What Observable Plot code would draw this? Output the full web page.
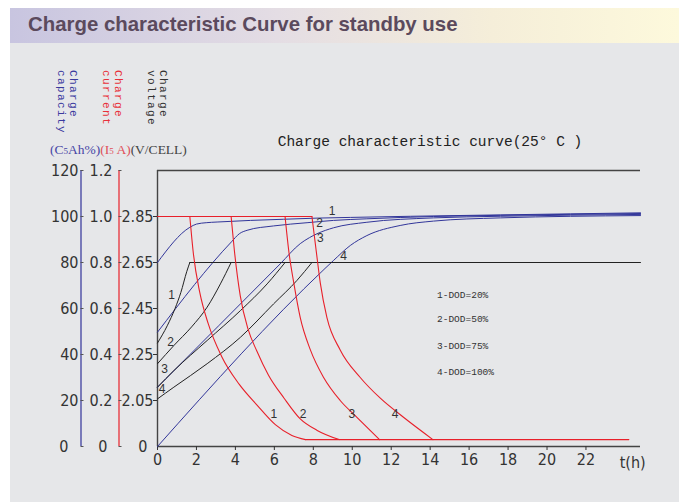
<!DOCTYPE html>
<html><head><meta charset="utf-8">
<script src="https://cdn.jsdelivr.net/npm/d3@7"></script>
<script src="https://cdn.jsdelivr.net/npm/@observablehq/plot@0.6"></script>
<style>
body{margin:0;background:#fff;}
#page{position:relative;width:679px;height:502px;overflow:hidden;background:#fff;}
#panel{position:absolute;left:10px;top:43px;right:0;bottom:0;background:#e6e7e9;}
#band{position:absolute;left:10px;top:8px;right:0;height:35px;background:linear-gradient(90deg,#c8c5e0 0%,#e4dde4 40%,#f5eed9 72%,#fdf9dc 100%);}
#band div{position:absolute;left:18px;top:5px;font:bold 20.4px "Liberation Sans",Arial,sans-serif;color:#5b4a5d;white-space:nowrap;}
.vlab{position:absolute;top:70px;writing-mode:vertical-rl;font:11px "Liberation Mono","DejaVu Sans Mono",monospace;letter-spacing:1.4px;line-height:12px;white-space:nowrap;}
#units{position:absolute;left:50px;top:142px;font:13.5px "Liberation Serif","DejaVu Serif",serif;white-space:nowrap;}
#units .s{font-size:9px;}
#chart{position:absolute;left:0;top:50px;}
</style></head>
<body><div id="page">
<div id="panel"></div>
<div id="band"><div>Charge characteristic Curve for standby use</div></div>
<div class="vlab" style="left:55px;color:#3a3a9e">Charge<br>capacity</div>
<div class="vlab" style="left:100px;color:#e8303a">Charge<br>current</div>
<div class="vlab" style="left:145px;color:#333">Charge<br>voltage</div>
<div id="units"><span style="color:#4646a6">(C<span class="s">5</span>Ah%)</span><span style="color:#e0505a">(I<span class="s">5</span> A)</span><span style="color:#444">(V/CELL)</span></div>
<div id="chart"></div>
</div>
<script>
// ---- tick values / labels ----
const hours = [0, 2, 4, 6, 8, 10, 12, 14, 16, 18, 20, 22];
const gridVals = [0, 20, 40, 60, 80, 100, 120];
const capacityTicks = ["0", "20", "40", "60", "80", "100", "120"];
const currentTicks = ["0", "0.2", "0.4", "0.6", "0.8", "1.0", "1.2"];
const voltageTicks = ["0", "2.05", "2.25", "2.45", "2.65", "2.85", ""];

// ---- charge current (I5 A) : [t(h), I] ----
const currentPlateau = [[0, 1.0], [7.93, 1.0]];
const current1 = [[1.66, 1.0], [1.84, 0.84], [2.17, 0.67], [2.6, 0.535], [3.3, 0.39], [4.2, 0.27], [5.11, 0.18], [6.05, 0.095], [6.9, 0.048], [7.6, 0.03]];
const current2 = [[3.78, 1.0], [3.95, 0.85], [4.25, 0.655], [4.65, 0.51], [5.1, 0.415], [5.7, 0.31], [6.5, 0.21], [7.33, 0.12], [8.2, 0.07], [9.33, 0.03]];
const current3 = [[6.55, 1.0], [6.74, 0.85], [7.0, 0.71], [7.33, 0.56], [7.85, 0.42], [8.53, 0.30], [9.38, 0.20], [10.24, 0.127], [11.4, 0.03]];
const current4 = [[7.93, 1.0], [8.15, 0.85], [8.36, 0.71], [8.7, 0.56], [9.38, 0.42], [10.41, 0.30], [11.44, 0.21], [12.63, 0.127], [14.14, 0.03]];
const currentFloor = [[7.6, 0.03], [24.2, 0.03]];

// ---- charge capacity (%) ----
const capacity1 = [[0, 80], [1.66, 95.3], [2.0, 96.7], [2.5, 97.3], [3.06, 97.6], [4.77, 98.3], [6.48, 98.8], [8.19, 99.3], [9.9, 99.6], [13, 100.1], [17.6, 100.7], [24.8, 101.6]];
const capacity2 = [[0, 49.7], [3.8, 89], [4.2, 92.5], [4.6, 94], [5.96, 95.9], [7.68, 97.3], [9.04, 98.3], [10.75, 99], [14.17, 100], [17.6, 100.5], [24.8, 101.3]];
const capacity3 = [[0, 25.8], [6.3, 79.4], [7.33, 88.2], [7.8, 90.8], [8.19, 92.5], [9.04, 95.1], [10.75, 97.5], [14.17, 99.4], [17.6, 100.1], [24.8, 100.9]];
const capacity4 = [[0, 0], [8.6, 77.4], [9.04, 80.9], [9.9, 87.4], [10.75, 91.7], [12.46, 96.1], [14.17, 98], [17.6, 99.4], [24.8, 100.4]];

// ---- charge voltage (V/cell) ----
const voltage1 = [[0, 2.30], [0.5, 2.375], [0.9, 2.45], [1.2, 2.52], [1.5, 2.61], [1.66, 2.65]];
const voltage2 = [[0, 2.21], [0.84, 2.289], [1.75, 2.37], [2.55, 2.456], [3.23, 2.557], [3.78, 2.65]];
const voltage3 = [[0, 2.108], [0.84, 2.18], [2.55, 2.311], [4.26, 2.441], [5.63, 2.557], [6.55, 2.65]];
const voltage4 = [[0, 2.057], [0.84, 2.108], [2.55, 2.21], [4.26, 2.325], [5.96, 2.47], [7.16, 2.572], [7.93, 2.65]];
const voltageFloat = [[1.66, 2.65], [24.8, 2.65]];

// ---- curve number labels ----
const currentLabels = [[5.97, 0.142, "1"], [7.47, 0.142, "2"], [9.98, 0.142, "3"], [12.2, 0.142, "4"]];
const capacityLabels = [[8.96, 102.3, "1"], [8.32, 97.2, "2"], [8.36, 90.4, "3"], [9.55, 82.7, "4"]];
const voltageLabels = [[0.72, 2.507, "1"], [0.67, 2.303, "2"], [0.36, 2.188, "3"], [0.24, 2.101, "4"]];
const legendLines = ["1-DOD=20%", "2-DOD=50%", "3-DOD=75%", "4-DOD=100%"];
const legendRows = [66.1, 55.5, 43.9, 32.3];
const chartTitle = "Charge characteristic curve(25° C )";

// ---- map each quantity onto the shared vertical scale ----
const fromCap = c => c;
const fromCur = i => i * 100;
const fromVolt = v => (v - 1.85) * 100;

function rows(series, kind, map) {
  return series.flatMap((s, k) => s.map(([t, v]) => ({t, y: map(v), id: kind + k})));
}
const redRows = rows([currentPlateau, current1, current2, current3, current4, currentFloor], "c", fromCur);
const blueRows = rows([capacity1, capacity2, capacity3, capacity4], "q", fromCap);
const blackRows = rows([voltage1, voltage2, voltage3, voltage4, voltageFloat], "v", fromVolt);

const RED = "#e8202a", BLUE = "#32369a", BLACK = "#222";
const NARROW = '"Liberation Sans Narrow","Arial Narrow","DejaVu Sans Condensed",sans-serif';
const MONO = '"Liberation Mono","DejaVu Sans Mono",monospace';
const SANS = '"Liberation Sans",Arial,sans-serif';
const lab = (arr, v) => arr[gridVals.indexOf(v)];
const labelRows = (arr, map) => arr.map(([t, v, n]) => ({t, y: map(v), n}));

const chart = Plot.plot({
  width: 679, height: 452,
  marginLeft: 157, marginRight: 39, marginTop: 120, marginBottom: 56,
  x: {domain: [0, 24.8], label: null},
  y: {domain: [0, 120], label: null},
  style: {background: "transparent", color: "#333", fontFamily: NARROW, fontSize: "16px"},
  marks: [
    // frame
    Plot.ruleX([0], {y1: 0, y2: 120, stroke: "#444", strokeWidth: 1.4}),
    Plot.ruleY([120], {x1: 0, x2: 24.8, stroke: "#444", strokeWidth: 1.4}),
    Plot.ruleY([0], {x1: 0, x2: 24.8, stroke: "#444", strokeWidth: 1.4}),
    // capacity axis (blue)
    Plot.ruleX([0], {y1: 0, y2: 120, dx: -76.5, stroke: "#4040a0", strokeWidth: 1.3}),
    Plot.ruleY(gridVals, {x1: 0, x2: 0, insetRight: -3, dx: -76.5, stroke: "#555"}),
    Plot.axisY(gridVals.slice(1), {label: null, tickSize: 0, tickPadding: 0, dx: -79, tickFormat: d => lab(capacityTicks, d), fontSize: 16}),
    Plot.text([0], {y: d => d, frameAnchor: "left", dx: -89, textAnchor: "end", text: () => capacityTicks[0], fontSize: 16}),
    // current axis (red)
    Plot.ruleX([0], {y1: 0, y2: 120, dx: -38.5, stroke: "#e8303a", strokeWidth: 1.3}),
    Plot.ruleY(gridVals, {x1: 0, x2: 0, insetRight: -3, dx: -38.5, stroke: "#555"}),
    Plot.axisY(gridVals.slice(1), {label: null, tickSize: 0, tickPadding: 0, dx: -45, tickFormat: d => lab(currentTicks, d), fontSize: 16}),
    Plot.text([0], {y: d => d, frameAnchor: "left", dx: -50, textAnchor: "end", text: () => currentTicks[0], fontSize: 16}),
    // voltage axis (frame)
    Plot.axisY(gridVals.slice(1, 6), {label: null, tickSize: 4, tickPadding: 0, tickFormat: d => lab(voltageTicks, d), fontSize: 16}),
    Plot.text([0], {y: d => d, frameAnchor: "left", dx: -10, textAnchor: "end", text: () => voltageTicks[0], fontSize: 16}),
    // time axis
    Plot.axisX(hours, {label: null, tickSize: 4, tickPadding: 3, fontSize: 16}),
    Plot.text(["t(h)"], {x: 24.4, y: 0, dy: 16, text: d => d, fontSize: 16}),
    // curves
    Plot.line(blueRows, {x: "t", y: "y", z: "id", stroke: BLUE, strokeWidth: 1, curve: "monotone-x"}),
    Plot.line(blackRows, {x: "t", y: "y", z: "id", stroke: BLACK, strokeWidth: 1, curve: "monotone-x"}),
    Plot.line(redRows, {x: "t", y: "y", z: "id", stroke: RED, strokeWidth: 1.1, curve: "monotone-x"}),
    // curve numbers
    Plot.text(labelRows(currentLabels, fromCur), {x: "t", y: "y", text: "n", fontFamily: SANS, fontSize: 12, fill: "#333"}),
    Plot.text(labelRows(capacityLabels, fromCap), {x: "t", y: "y", text: "n", fontFamily: SANS, fontSize: 12, fill: "#333"}),
    Plot.text(labelRows(voltageLabels, fromVolt), {x: "t", y: "y", text: "n", fontFamily: SANS, fontSize: 12, fill: "#333"}),
    // legend & title
    Plot.text(legendLines, {x: () => 14.35, y: (d, i) => legendRows[i], text: d => d, textAnchor: "start", fontFamily: MONO, fontSize: 9.5, fill: "#333"}),
    Plot.text([chartTitle], {frameAnchor: "top", dx: 31, dy: -35, text: d => d, fontFamily: MONO, fontSize: 14.5, fill: "#222"})
  ]
});
document.getElementById("chart").appendChild(chart);
</script>
</body></html>
